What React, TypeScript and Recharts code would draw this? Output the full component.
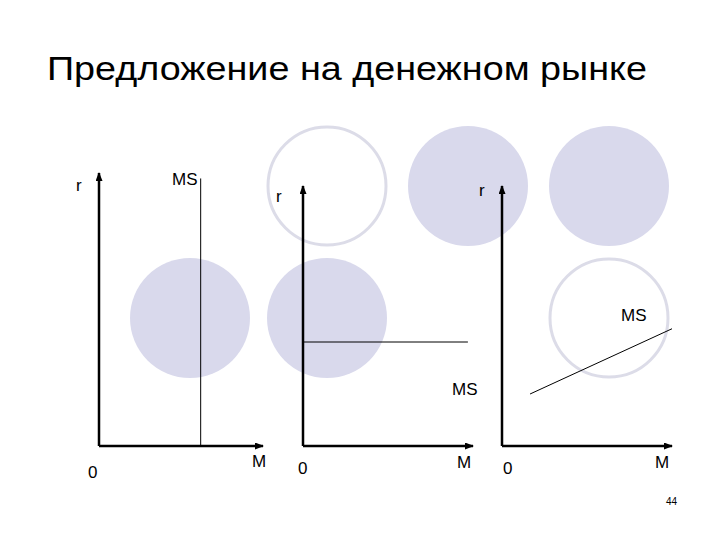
import { LineChart, Line, XAxis, YAxis } from 'recharts';

const FONT = '"Liberation Sans", Arial, sans-serif';

const slideTitle = 'Предложение на денежном рынке';
const pageNumber = '44';
const supplyLabel = 'MS';
const xName = 'M';
const yName = 'r';
const originName = '0';

// MS curves (M and r on a 0..10 scale)
const verticalMs = [
  { m: 6.2, r: 0 },
  { m: 6.2, r: 9.8 },
];
const horizontalMs = [
  { m: 0, r: 4.0 },
  { m: 9.7, r: 4.0 },
];
const slopedMs = [
  { m: 1.65, r: 2.0 },
  { m: 10.3, r: 4.6 },
];

const axisDomain = [0, 10];

// background decoration of the slide template
const filledDots = [
  { cx: 190, cy: 318 },
  { cx: 327, cy: 318 },
  { cx: 468, cy: 186 },
  { cx: 609, cy: 186 },
];
const ringDots = [
  { cx: 327, cy: 186 },
  { cx: 609, cy: 318 },
];

const panels = [
  {
    data: verticalMs,
    left: 99, right: 263, top: 173, bottom: 446,
    labels: [
      { t: yName, x: 76, y: 191 },
      { t: supplyLabel, x: 172, y: 185 },
      { t: originName, x: 88, y: 478 },
      { t: xName, x: 252, y: 467 },
    ],
  },
  {
    data: horizontalMs,
    left: 303, right: 473, top: 186, bottom: 446,
    labels: [
      { t: yName, x: 276, y: 202 },
      { t: supplyLabel, x: 452, y: 395 },
      { t: originName, x: 298, y: 474 },
      { t: xName, x: 457, y: 468 },
    ],
  },
  {
    data: slopedMs,
    left: 502, right: 672, top: 186, bottom: 446,
    labels: [
      { t: yName, x: 479, y: 196 },
      { t: supplyLabel, x: 621, y: 321 },
      { t: originName, x: 503, y: 474 },
      { t: xName, x: 655, y: 468 },
    ],
  },
];

const PAD = 10;

function Panel({ p }: { p: (typeof panels)[number] }) {
  const w = p.right - p.left + PAD * 2;
  const h = p.bottom - p.top + PAD * 2;
  // axes need at least 1px of room or Recharts skips drawing them
  return (
    <div style={{ position: 'absolute', left: p.left - PAD, top: p.top - PAD }}>
      <LineChart width={w} height={h} margin={{ top: PAD, right: PAD, bottom: PAD - 1, left: PAD - 1 }}>
        <XAxis
          type="number"
          dataKey="m"
          domain={axisDomain}
          allowDataOverflow
          height={1}
          tick={false}
          tickLine={false}
          axisLine={{ stroke: '#000', strokeWidth: 2.5, markerEnd: 'url(#arrowHead)' }}
        />
        <YAxis
          type="number"
          dataKey="r"
          domain={axisDomain}
          allowDataOverflow
          width={1}
          tick={false}
          tickLine={false}
          axisLine={{ stroke: '#000', strokeWidth: 2.5, markerStart: 'url(#arrowHead)' }}
        />
        <Line
          data={p.data}
          dataKey="r"
          stroke="#000"
          strokeWidth={1}
          dot={false}
          activeDot={false}
          isAnimationActive={false}
        />
      </LineChart>
    </div>
  );
}

export default function App() {
  return (
    <div style={{ position: 'absolute', left: 0, top: 0, width: 720, height: 540, background: '#fff', fontFamily: FONT }}>
      <svg width={720} height={540} style={{ position: 'absolute', left: 0, top: 0 }}>
        <defs>
          <marker
            id="arrowHead"
            viewBox="0 0 9 7"
            markerWidth={9}
            markerHeight={7}
            refX={8}
            refY={3.5}
            markerUnits="userSpaceOnUse"
            orient="auto-start-reverse"
          >
            <path d="M0,0 L9,3.5 L0,7 z" fill="#000" />
          </marker>
        </defs>
        {filledDots.map((d, i) => (
          <circle key={`f${i}`} cx={d.cx} cy={d.cy} r={60} fill="#d9d9ec" />
        ))}
        {ringDots.map((d, i) => (
          <circle key={`r${i}`} cx={d.cx} cy={d.cy} r={59} fill="none" stroke="#dcdce8" strokeWidth={3} />
        ))}
        <text x={47} y={80} fontSize={34} fontFamily={FONT} fill="#000" textLength={600} lengthAdjust="spacingAndGlyphs">
          {slideTitle}
        </text>
        {panels.flatMap((p, i) =>
          p.labels.map((l, j) => (
            <text key={`${i}-${j}`} x={l.x} y={l.y} fontSize={17} fontFamily={FONT} fill="#000">
              {l.t}
            </text>
          ))
        )}
        <text x={666} y={505} fontSize={10} fontFamily={FONT} fill="#000">
          {pageNumber}
        </text>
      </svg>
      {panels.map((p, i) => (
        <Panel key={i} p={p} />
      ))}
    </div>
  );
}
